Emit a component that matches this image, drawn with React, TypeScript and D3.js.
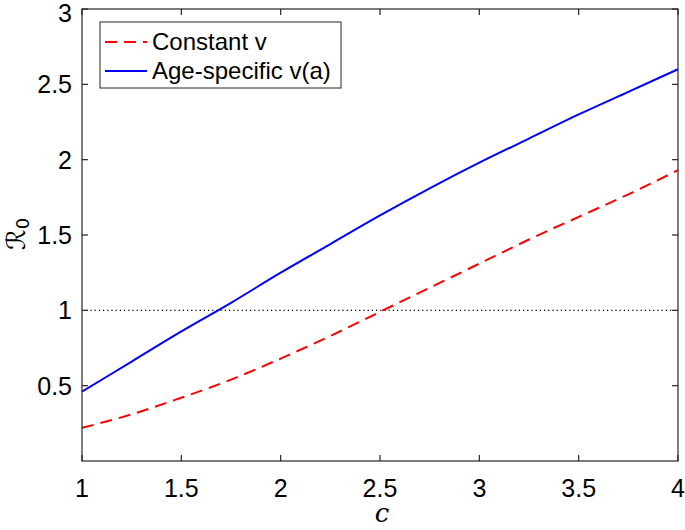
import React from "react";
import * as d3 from "d3";

const cValues = [1, 1.25, 1.5, 1.75, 2, 2.25, 2.5, 2.75, 3, 3.25, 3.5, 3.75, 4];
const constantV = [0.22, 0.31, 0.42, 0.54, 0.68, 0.83, 0.99, 1.15, 1.31, 1.47, 1.62, 1.77, 1.93];
const ageSpecificV = [0.46, 0.66, 0.86, 1.05, 1.25, 1.44, 1.63, 1.81, 1.98, 2.14, 2.3, 2.45, 2.6];
const xTicks = [1, 1.5, 2, 2.5, 3, 3.5, 4];
const yTicks = [0.5, 1, 1.5, 2, 2.5, 3];
const seriesNames = ["Constant v", "Age-specific v(a)"];

const W = 685, H = 530;
const L = 82, R = 678, T = 9, B = 461;
const axisColor = "#262626";
const font = "'Liberation Sans', Arial, Helvetica, sans-serif";

export default function App() {
  const x = d3.scaleLinear().domain([1, 4]).range([L, R]);
  const y = d3.scaleLinear().domain([0, 3]).range([B, T]);
  const line = d3
    .line<number>()
    .x((_, i) => x(cValues[i]))
    .y((d) => y(d))
    .curve(d3.curveMonotoneX);
  const tl = 6;
  return (
    <svg width={W} height={H} style={{ position: "absolute", left: 0, top: 0 }}>
      <rect x={0} y={0} width={W} height={H} fill="white" />
      <line x1={L} x2={R} y1={y(1)} y2={y(1)} stroke="black" strokeWidth={1.2} strokeDasharray="1.2,3" />
      <path d={line(constantV) || ""} fill="none" stroke="#ff0000" strokeWidth={2} strokeDasharray="12,7" />
      <path d={line(ageSpecificV) || ""} fill="none" stroke="#0000ff" strokeWidth={2} />
      <rect x={L} y={T} width={R - L} height={B - T} fill="none" stroke={axisColor} strokeWidth={1.2} />
      {xTicks.map((t) => (
        <g key={"x" + t}>
          <line x1={x(t)} x2={x(t)} y1={B} y2={B - tl} stroke={axisColor} strokeWidth={1.2} />
          <line x1={x(t)} x2={x(t)} y1={T} y2={T + tl} stroke={axisColor} strokeWidth={1.2} />
          <text x={x(t)} y={497} textAnchor="middle" fontFamily={font} fontSize={25} fill="black">
            {String(t)}
          </text>
        </g>
      ))}
      {yTicks.map((t) => (
        <g key={"y" + t}>
          <line x1={L} x2={L + tl} y1={y(t)} y2={y(t)} stroke={axisColor} strokeWidth={1.2} />
          <line x1={R} x2={R - tl} y1={y(t)} y2={y(t)} stroke={axisColor} strokeWidth={1.2} />
          <text x={72} y={Math.max(y(t) + 9, 22)} textAnchor="end" fontFamily={font} fontSize={25} fill="black">
            {String(t)}
          </text>
        </g>
      ))}
      <text x={382} y={522} textAnchor="middle" fontFamily="'DejaVu Serif', serif" fontStyle="italic" fontSize={26} fill="black">
        c
      </text>
      <text
        transform={`translate(25,234) rotate(-90)`}
        textAnchor="middle"
        fontFamily="'DejaVu Sans', 'DejaVu Serif', serif"
        fontSize={26}
        fill="black"
      >
        ℛ<tspan fontSize={18} dy={4}>0</tspan>
      </text>
      <rect x={100} y={22} width={241} height={66} fill="white" stroke={axisColor} strokeWidth={1} />
      <line x1={105} x2={147} y1={42} y2={42} stroke="#ff0000" strokeWidth={2} strokeDasharray="12,7" />
      <line x1={105} x2={147} y1={71} y2={71} stroke="#0000ff" strokeWidth={2} />
      <text x={152} y={50} fontFamily={font} fontSize={24} fill="black">
        {seriesNames[0]}
      </text>
      <text x={152} y={79} fontFamily={font} fontSize={24} fill="black">
        {seriesNames[1]}
      </text>
    </svg>
  );
}
